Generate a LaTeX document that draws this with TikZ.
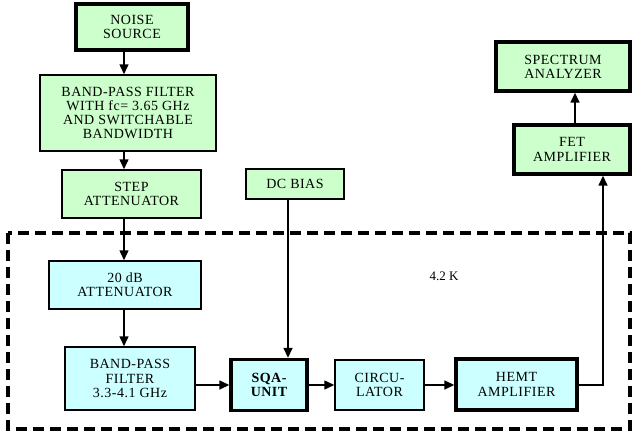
\documentclass[tikz,border=0pt]{standalone}
\usepackage{fontspec}
\setmainfont{Liberation Serif}
\newfontfamily\trkfont[LetterSpace=3.5]{Liberation Serif}
\newcommand\trk{\trkfont\fontsize{14}{14.2}\selectfont}
\usetikzlibrary{arrows.meta}
\definecolor{warmgreen}{HTML}{CCFFCC}
\definecolor{coldcyan}{HTML}{CCFFFF}
\tikzset{
  blk/.style={draw, line width=1.5pt, inner sep=0pt, align=center, font=\trk},
  roomtemp/.style={blk, fill=warmgreen},
  cryo/.style={blk, fill=coldcyan},
  heavy/.style={line width=3.4pt},
  sig/.style={line width=1.5pt, -{Triangle[length=10pt,width=9pt]}},
  coldzone/.style={line width=3.4pt, dash pattern=on 11pt off 6pt},
}
\begin{document}
\begin{tikzpicture}[x=1pt,y=-1pt]
\useasboundingbox (0,0) rectangle (632,439);

% cryostat boundary
\draw[coldzone] (8,233) rectangle (630,429);
\node[font=\fontsize{13}{14}\selectfont] (temp) at (444,276) {4.2 K};

% room-temperature chain
\node[roomtemp, heavy, minimum width=112pt, minimum height=46pt] (noise) at (132,27) {NOISE\\SOURCE};
\node[roomtemp, minimum width=176pt, minimum height=76pt] (bpfa) at (128,113)
  {BAND-PASS FILTER\\WITH fc= 3.65 GHz\\AND SWITCHABLE\\BANDWIDTH};
\node[roomtemp, minimum width=139pt, minimum height=48pt] (step) at (131.5,194) {STEP\\ATTENUATOR};
\node[roomtemp, minimum width=98pt, minimum height=30pt] (bias) at (295,184) {DC BIAS};
\node[roomtemp, heavy, minimum width=116pt, minimum height=49pt] (fet) at (572,149.5) {FET\\AMPLIFIER};
\node[roomtemp, heavy, minimum width=134pt, minimum height=49pt] (sa) at (563,66.5) {SPECTRUM\\ANALYZER};

% cold chain
\node[cryo, minimum width=152pt, minimum height=48pt] (att) at (125,285) {20 dB\\ATTENUATOR};
\node[cryo, minimum width=130pt, minimum height=63pt] (bpfb) at (130,378.5) {BAND-PASS\\FILTER\\3.3-4.1 GHz};
\node[cryo, heavy, minimum width=76pt, minimum height=51pt, font=\trk\bfseries] (sqa) at (269,385) {SQA-\\UNIT};
\node[cryo, minimum width=89pt, minimum height=50pt] (circ) at (379.5,385) {CIRCU-\\LATOR};
\node[cryo, heavy, minimum width=121pt, minimum height=51pt] (hemt) at (516.5,384.5) {HEMT\\AMPLIFIER};

% guide columns for the vertical runs
\coordinate (colA) at (124,0);
\coordinate (colB) at (288,0);
\coordinate (colC) at (603,0);
\coordinate (colD) at (575,0);
\coordinate (rowS) at (0,385);

\draw[sig] (noise.south -| colA) -- (bpfa.north -| colA);
\draw[sig] (bpfa.south -| colA) -- (step.north -| colA);
\draw[sig] (step.south -| colA) -- (att.north -| colA);
\draw[sig] (att.south -| colA) -- (bpfb.north -| colA);
\draw[sig] (bpfb.east |- rowS) -- (sqa.west |- rowS);
\draw[sig] (bias.south -| colB) -- (sqa.north -| colB);
\draw[sig] (sqa.east |- rowS) -- (circ.west |- rowS);
\draw[sig] (circ.east |- rowS) -- (hemt.west |- rowS);
\draw[sig] (hemt.east |- rowS) -| (fet.south -| colC);
\draw[sig] (fet.north -| colD) -- (sa.south -| colD);
\end{tikzpicture}
\end{document}
